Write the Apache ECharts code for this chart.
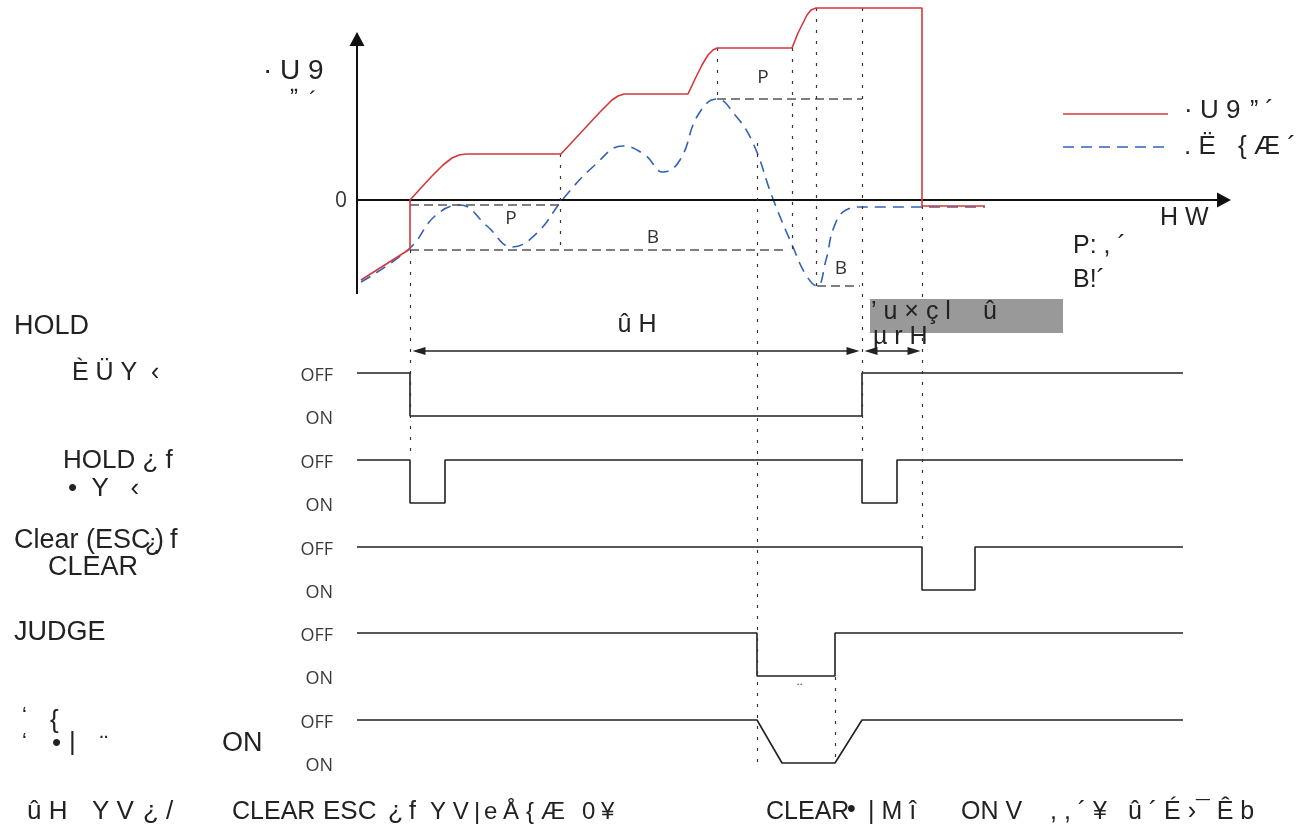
<!DOCTYPE html>
<html><head><meta charset="utf-8">
<script src="https://cdn.jsdelivr.net/npm/echarts@6/dist/echarts.min.js"></script>
<style>html,body{margin:0;padding:0;background:#fff}#c{width:1303px;height:834px}</style>
</head><body><div id="c"></div>
<script>
// ---------- DATA ----------
// analog trace: time (x) and value (0 = zero line, up positive)
const measX = [361,410,410,420,432,443,452,459,466,561,600,612,618,624,688,696,702,708,713,717,792,798,803,807,811,816,922,922,985];
const measV = [-80,-49,0,11,24,35,42,45,46,46,88,100,104,106,106,123,135,145,150,152,152,167,177,185,190,192,192,-6,-6];
const dispX = [361,410,435,460,487,512,537,563,595,623,645,663,680,698,717,735,753,773,793,806,817,826,834,846,862,985];
const dispV = [-82,-48,-16,-5,-26,-47,-33,1,35,54,45,28,40,85,101,85,57,1,-47,-75,-86,-60,-27,-10,-7,-7];
const seriesNames = ['· U 9 ” ´', '. Ë  { Æ ´'];
// P / B reference levels
const refLevel = [-5, -50, 101, -86];
const refFrom  = [410, 410, 717, 817];
const refTo    = [560, 787, 862, 860];
const refLabels = ['P','B','P','B'];
// dotted timing guides
const guideX   = [410, 560, 717, 792, 816, 862, 757, 835, 922];
const guideTop = [-50, 46, 152, 152, 192, 192, 57, -477, -6];
const guideBot = [-255, -50, 101, -50, -86, -260, -565, -563, -347];
// digital signals: time of each vertex and level (0 = OFF, 1 = ON)
const holdOutT = [357,410,410,862,862,1183];
const holdOutL = [0,0,1,1,0,0];
const holdInT  = [357,410,410,445,445,862,862,897,897,1183];
const holdInL  = [0,0,1,1,0,0,1,1,0,0];
const clearT   = [357,922,922,975,975,1183];
const clearL   = [0,0,1,1,0,0];
const judgeT   = [357,757,757,835,835,1183];
const judgeL   = [0,0,1,1,0,0];
const outT     = [357,757,782,835,862,1183];
const outL     = [0,0,1,1,0,0];
const stateLabels = ['OFF','ON'];
// intervals (arrows)
const holdSpan  = [413, 859];
const delaySpan = [865, 920];

// ---------- LAYOUT ----------
const rowOff = [-173,-260,-347,-433,-520];
const swing = 43;
const SANS = "'Liberation Sans', Arial, sans-serif";
const LIGHT = "'Open Sans', sans-serif";
const pxY = v => 200 - v;
const RED = '#d4393a', BLUE = '#3262b8';

const zip = (xs, ys) => xs.map((x,i)=>[x, ys[i]]);
const dig = (ts, ls, r) => ts.map((t,i)=>[t, rowOff[r] - ls[i]*swing]);

const series = [];
series.push({name:seriesNames[0], type:'line', data:zip(measX, measV), symbol:'none', z:5,
  lineStyle:{color:RED, width:1.6}});
series.push({name:seriesNames[1], type:'line', data:zip(dispX, dispV), symbol:'none', smooth:0.45, z:4,
  lineStyle:{color:BLUE, width:1.6, type:[11,7]}});
[[holdOutT,holdOutL],[holdInT,holdInL],[clearT,clearL],[judgeT,judgeL],[outT,outL]].forEach((p,r)=>{
  series.push({type:'line', data:dig(p[0],p[1],r), symbol:'none', lineStyle:{color:'#222', width:1.6}, z:3});
});
const ml = [];
const seg = (x1,y1,x2,y2,style,s1,s2,sz) => ml.push([
  {coord:[x1,y1], symbol:s1||'none', symbolSize:sz||10},
  {coord:[x2,y2], symbol:s2||'none', symbolSize:sz||10, lineStyle:style}]);
// axes
seg(357,-94,357,161,{color:'#111',width:2,type:'solid'},'none','triangle',[15,14]);
seg(357,0,1224,0,{color:'#111',width:2,type:'solid'},'none','triangle',[15,14]);
refLevel.forEach((v,i)=>seg(refFrom[i],v,refTo[i],v,{color:'#555',width:1.5,type:[9,5]}));
guideX.forEach((x,i)=>seg(x,guideTop[i],x,guideBot[i],{color:'#333',width:1.2,type:[3,8]}));
const arrowY = -151;
[holdSpan, delaySpan].forEach(s=>seg(s[0]+6,arrowY,s[1]-6,arrowY,{color:'#222',width:1.5,type:'solid'},'triangle','triangle',[8,13]));
// legend keys
const legY = [86, 53];
seg(1063,legY[0],1168,legY[0],{color:RED,width:1.6,type:'solid'});
seg(1063,legY[1],1168,legY[1],{color:BLUE,width:1.6,type:[11,7]});
series.push({type:'line', data:[], symbol:'none', silent:true,
  markLine:{silent:true, animation:false, symbol:'none', label:{show:false}, itemStyle:{color:'#222'}, data:ml}});

// ---------- TEXTS ----------
const g = [];
g.push({type:'rect', shape:{x:870,y:299,width:193,height:34}, style:{fill:'#999'}, z:100});
function T(x,y,s,size,opt={}){
  g.push({type:'text', x, y, z:101, style:{text:s, fill:opt.color||'#222', fontSize:size, fontFamily:opt.font||SANS,
    align:opt.align||'left', verticalAlign:'middle', textAlign:opt.align||'left', textVerticalAlign:'middle'}});
}
T(263,71,'· U 9',28);
T(290,84,'„',24);
T(309,101,'´',24);
T(347,201,'0',21,{font:LIGHT,color:'#333',align:'right'});
const refLabelPos = [[511,219],[653,238],[763,78],[841,269]];
refLabels.forEach((s,i)=>T(refLabelPos[i][0],refLabelPos[i][1],s,19,{font:LIGHT,color:'#333',align:'center'}));
// legend texts
T(1184,pxY(legY[0])-3,'· U 9',26);
T(1250,pxY(legY[0])-3,'” ´',25);
T(1184,pxY(legY[1]),'. Ë',26);
T(1238,pxY(legY[1]),'{ Æ ´',26);
T(1160,218,'H W',25);
T(1073,246,'P: , ´',25);
T(1073,280,'B!´',25);
T(14,327,'HOLD',27);
T(72,373,'È Ü Y',25);
T(151,373,'‹',25);
T(637,325,'û H',25,{align:'center'});
T(871,312,'’ u × ç l',25);
T(983,312,'û',25);
T(873,337,'µ r H',25);
T(63,461,'HOLD ¿ f',26);
T(68,489,'•  Y   ‹',26);
T(14,541,'Clear (ESC',27);
T(155,541,')',27);
T(145,544,'¿',24);
T(170,541,'f',27);
T(48,568,'CLEAR',27);
T(14,633,'JUDGE',27);
T(22,716,'‘',22);
T(50,721,'{',26);
T(22,742,'‘',22);
T(52,744,'•',26);
T(69,743,'|',26);
T(100,745,'¨',24);
T(222,744,'ON',27);
rowOff.forEach(v=>{
  T(333,pxY(v)+3,stateLabels[0],18,{font:LIGHT,color:'#3a3a3a',align:'right'});
  T(333,pxY(v-swing)+3,stateLabels[1],18,{font:LIGHT,color:'#3a3a3a',align:'right'});
});
T(795,690,'¨',16,{font:LIGHT,color:'#444'});
// bottom notes
const BY = 812;
T(27,BY,'û H',26);
T(92,BY,'Y V',26);
T(143,BY,'¿ /',26);
T(232,BY,'CLEAR',25);
T(323,BY,'ESC',26);
T(388,BY,'¿',25);
T(409,BY,'f',25);
T(430,BY,'Y V',24);
T(474,BY,'|',24);
T(484,BY,'e',24);
T(503,BY,'Å',24);
T(526,BY,'{',24);
T(541,BY,'Æ',24);
T(582,BY,'0',24);
T(601,BY,'¥',24);
T(766,BY,'CLEAR',25);
T(847,810,'•',25);
T(868,BY,'| M î',25);
T(961,BY,'ON V',25);
T(1050,BY,', , ´ ¥',25);
T(1128,BY,'û ´ É ›',25);
T(1196,BY,'¯ Ê b',25);

const chart = echarts.init(document.getElementById('c'), null, {renderer:'canvas'});
chart.setOption({
  animation:false,
  backgroundColor:'#fff',
  grid:{left:0,right:0,top:0,bottom:0},
  xAxis:{type:'value', min:0, max:1303, show:false},
  yAxis:{type:'value', min:-634, max:200, show:false},
  series,
  graphic:g
});
</script></body></html>
